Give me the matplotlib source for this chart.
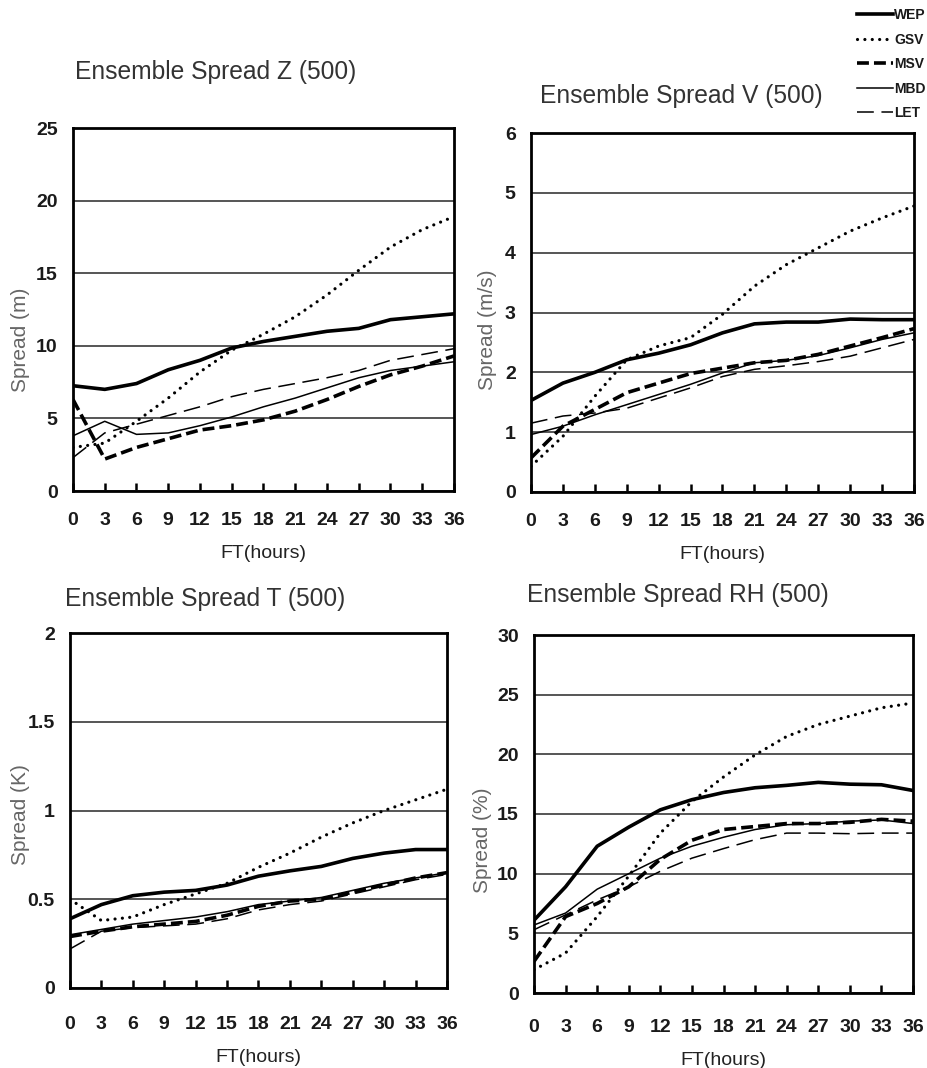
"""Ensemble spread of Z, V, T and RH at 500 hPa for five perturbation methods."""

import matplotlib
matplotlib.use("Agg")
import matplotlib.pyplot as plt
from matplotlib.lines import Line2D

plt.rcParams["font.family"] = ["Liberation Sans", "DejaVu Sans"]

W, H = 928, 1068

ft_hours = [0, 3, 6, 9, 12, 15, 18, 21, 24, 27, 30, 33, 36]
methods = ["WEP", "GSV", "MSV", "MBD", "LET"]

# --- spread Z (m) ---
z_wep = [7.25, 7.0, 7.4, 8.35, 9.0, 9.85, 10.3, 10.65, 11.0, 11.2, 11.8, 12.0, 12.2]
z_gsv = [3.0, 3.3, 4.8, 6.4, 8.2, 9.7, 10.8, 12.0, 13.5, 15.2, 16.8, 18.0, 18.9]
z_msv = [6.3, 2.2, 3.0, 3.6, 4.2, 4.5, 4.9, 5.5, 6.3, 7.2, 8.0, 8.6, 9.3]
z_mbd = [3.8, 4.8, 3.9, 4.0, 4.5, 5.1, 5.8, 6.4, 7.1, 7.8, 8.3, 8.6, 8.9]
z_let = [2.3, 4.0, 4.6, 5.2, 5.8, 6.5, 7.0, 7.4, 7.8, 8.3, 9.0, 9.4, 9.8]

# --- spread V (m/s) ---
v_wep = [1.53, 1.82, 2.0, 2.21, 2.32, 2.46, 2.66, 2.81, 2.84, 2.84, 2.89, 2.88, 2.88]
v_gsv = [0.43, 0.93, 1.6, 2.21, 2.44, 2.58, 2.97, 3.44, 3.8, 4.08, 4.36, 4.58, 4.78]
v_msv = [0.57, 1.1, 1.38, 1.66, 1.82, 1.98, 2.07, 2.16, 2.2, 2.3, 2.44, 2.58, 2.73]
v_mbd = [0.96, 1.1, 1.29, 1.46, 1.63, 1.8, 1.99, 2.16, 2.2, 2.28, 2.41, 2.55, 2.66]
v_let = [1.15, 1.27, 1.32, 1.40, 1.57, 1.74, 1.93, 2.05, 2.11, 2.18, 2.27, 2.41, 2.55]

# --- spread T (K) ---
t_wep = [0.39, 0.47, 0.52, 0.54, 0.55, 0.58, 0.63, 0.66, 0.685, 0.73, 0.76, 0.78, 0.78]
t_gsv = [0.50, 0.38, 0.40, 0.47, 0.53, 0.59, 0.68, 0.76, 0.85, 0.93, 1.0, 1.06, 1.12]
t_msv = [0.29, 0.32, 0.345, 0.36, 0.375, 0.41, 0.46, 0.49, 0.50, 0.54, 0.58, 0.62, 0.65]
t_mbd = [0.30, 0.33, 0.36, 0.38, 0.40, 0.43, 0.47, 0.49, 0.51, 0.55, 0.59, 0.62, 0.65]
t_let = [0.22, 0.32, 0.34, 0.35, 0.36, 0.39, 0.44, 0.47, 0.49, 0.53, 0.57, 0.61, 0.64]

# --- spread RH (%) ---
rh_wep = [6.1, 8.9, 12.3, 13.9, 15.35, 16.2, 16.8, 17.2, 17.4, 17.65, 17.5, 17.45, 16.97]
rh_gsv = [1.95, 3.35, 6.4, 9.8, 13.4, 16.05, 18.1, 19.95, 21.5, 22.5, 23.2, 23.9, 24.3]
rh_msv = [2.65, 6.4, 7.5, 8.9, 11.2, 12.8, 13.7, 13.95, 14.2, 14.2, 14.3, 14.55, 14.4]
rh_mbd = [5.7, 6.7, 8.7, 10.0, 11.3, 12.3, 13.05, 13.7, 14.1, 14.2, 14.4, 14.5, 14.2]
rh_let = [5.3, 6.55, 7.8, 8.9, 10.2, 11.3, 12.1, 12.85, 13.4, 13.4, 13.35, 13.4, 13.4]

styles = {
    "WEP": dict(color="black", linewidth=2.6, linestyle="-"),
    "GSV": dict(color="black", linewidth=2.3, linestyle=(0, (0.01, 2.3)), dash_capstyle="round"),
    "MSV": dict(color="black", linewidth=2.6, linestyle=(0, (3.3, 1.4))),
    "MBD": dict(color="black", linewidth=1.1, linestyle="-"),
    "LET": dict(color="black", linewidth=1.1, linestyle=(0, (11, 5))),
}


def px_rect(left, top, right, bottom):
    return [left / W, 1 - bottom / H, (right - left) / W, (bottom - top) / H]


# box, title position and y-label anchor (right edge of the rotated text) in pixels
panels = [
    dict(box=(73, 128, 454, 491), series=[z_wep, z_gsv, z_msv, z_mbd, z_let],
         ylim=(0, 25), yticks=[0, 5, 10, 15, 20, 25], yticklabels=None,
         ylabel="Spread (m)", ylabel_xy=(30, 340), xpad=15,
         title="Ensemble Spread Z (500)", title_xy=(75, 72)),
    dict(box=(531, 133, 914, 492), series=[v_wep, v_gsv, v_msv, v_mbd, v_let],
         ylim=(0, 6), yticks=[0, 1, 2, 3, 4, 5, 6], yticklabels=None,
         ylabel="Spread (m/s)", ylabel_xy=(497, 330), xpad=15,
         title="Ensemble Spread V (500)", title_xy=(540, 96)),
    dict(box=(70, 633, 447, 988), series=[t_wep, t_gsv, t_msv, t_mbd, t_let],
         ylim=(0, 2), yticks=[0, 0.5, 1, 1.5, 2], yticklabels=["0", "0.5", "1", "1.5", "2"],
         ylabel="Spread (K)", ylabel_xy=(30, 815), xpad=20,
         title="Ensemble Spread T (500)", title_xy=(65, 599)),
    dict(box=(534, 635, 913, 993), series=[rh_wep, rh_gsv, rh_msv, rh_mbd, rh_let],
         ylim=(0, 30), yticks=[0, 5, 10, 15, 20, 25, 30], yticklabels=None,
         ylabel="Spread (%)", ylabel_xy=(492, 840), xpad=19,
         title="Ensemble Spread RH (500)", title_xy=(527, 595)),
]

fig = plt.figure(figsize=(W / 100, H / 100), dpi=100)
fig.patch.set_facecolor("white")

for p in panels:
    left, top, right, bottom = p["box"]
    ax = fig.add_axes(px_rect(left, top, right, bottom))
    for name, vals in zip(methods, p["series"]):
        ax.plot(ft_hours, vals, zorder=3, **styles[name])
    ax.set_xlim(0, 36)
    ax.set_ylim(*p["ylim"])
    ax.set_xticks(ft_hours)
    ax.set_yticks(p["yticks"])
    if p["yticklabels"]:
        ax.set_yticklabels(p["yticklabels"])
    ax.grid(True, axis="y", color="#555555", linewidth=1.4, zorder=1)
    ax.set_axisbelow(True)
    for sp in ax.spines.values():
        sp.set_linewidth(2.0)
        sp.set_color("black")
    ax.tick_params(axis="x", direction="in", length=6, width=1.8, pad=p["xpad"], labelsize=14)
    ax.tick_params(axis="y", length=0, pad=11, labelsize=14)
    for lab in ax.get_xticklabels() + ax.get_yticklabels():
        lab.set_fontweight("bold")
        lab.set_color("#1a1a1a")
    ax.set_xlabel("FT(hours)", fontsize=14, color="#222222", labelpad=11.5)
    ax.set_ylabel(p["ylabel"], fontsize=15, color="#666666")
    lx, ly = p["ylabel_xy"]
    ax.yaxis.set_label_coords((lx - left) / (right - left), (bottom - ly) / (bottom - top))
    tx, ty = p["title_xy"]
    fig.text(tx / W, 1 - ty / H, p["title"], fontsize=17.7, color="#333333",
             ha="left", va="center")

# legend in the top-right corner of the figure
handles = [Line2D([0], [0], **styles[m]) for m in methods]
leg = fig.legend(handles, methods, loc="upper right",
                 bbox_to_anchor=(926 / W, 1 - 8 / H),
                 frameon=False, fontsize=10, handlelength=2.6, handletextpad=0.1,
                 labelspacing=0.76, borderaxespad=0.0, borderpad=0.0)
for t in leg.get_texts():
    t.set_fontweight("bold")
    t.set_color("#1a1a1a")

fig.savefig("out.png", dpi=100)
